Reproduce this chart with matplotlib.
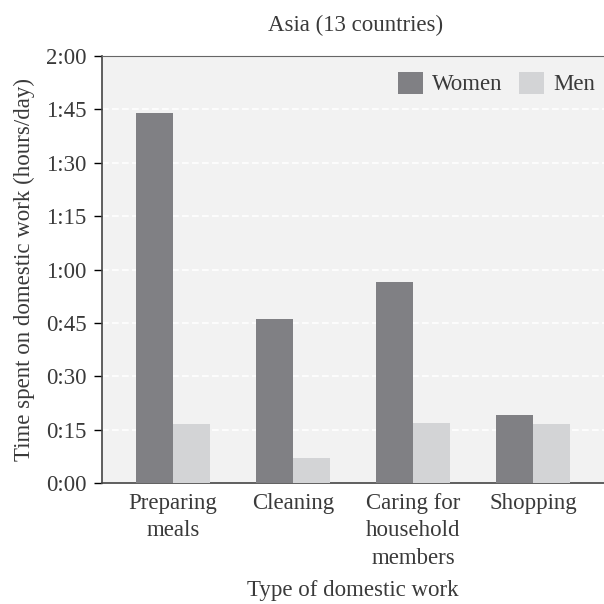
import matplotlib.pyplot as plt
import numpy as np

# data (minutes per day)
categories = ['Preparing\nmeals', 'Cleaning', 'Caring for\nhousehold\nmembers', 'Shopping']
women = [104, 46, 56.5, 19]
men = [16.5, 7, 17, 16.5]
tick_minutes = [0, 15, 30, 45, 60, 75, 90, 105, 120]
tick_labels = ['0:00', '0:15', '0:30', '0:45', '1:00', '1:15', '1:30', '1:45', '2:00']

plt.rcParams['font.family'] = ['Liberation Serif', 'DejaVu Serif']
text_col = '#3a3a3a'
fs = 16.5

fig = plt.figure(figsize=(6.04, 6.04), dpi=100)
ax = fig.add_axes([102 / 604, (604 - 483) / 604, (604 - 102) / 604, (483 - 56) / 604])
ax.set_facecolor('#f2f2f2')

x = np.arange(len(categories))
w = 0.31
ax.bar(x - w / 2, women, w, color='#808084', label='Women', zorder=3)
ax.bar(x + w / 2, men, w, color='#d3d4d6', label='Men', zorder=3)

ax.set_xlim(-0.59, 3.59)
ax.set_ylim(0, 120)
ax.set_yticks(tick_minutes)
ax.set_yticklabels(tick_labels)
ax.yaxis.grid(True, color='white', linestyle=(0, (4, 2)), linewidth=1.2, zorder=1)

ax.set_xticks(x)
ax.set_xticklabels(categories, linespacing=1.4)
ax.tick_params(axis='x', length=0, pad=7, labelsize=fs, labelcolor=text_col)
ax.tick_params(axis='y', length=6, width=1, pad=5, labelsize=fs, labelcolor=text_col)

ax.spines['right'].set_visible(False)
ax.spines['top'].set_color('#666666')
ax.spines['left'].set_color('#444444')
ax.spines['bottom'].set_color('#444444')
ax.spines['left'].set_linewidth(1.2)
ax.spines['bottom'].set_linewidth(1.2)

ax.set_xlabel('Type of domestic work', fontsize=fs, color=text_col, labelpad=8)
ax.set_ylabel('Time spent on domestic work (hours/day)', fontsize=fs, color=text_col, labelpad=8)
fig.text(356 / 604, 1 - 25 / 604, 'Asia (13 countries)', ha='center', va='center',
         fontsize=fs, color=text_col)

leg = ax.legend(loc='upper right', ncol=2, frameon=False, fontsize=fs,
                handlelength=1.1, handleheight=1.1, columnspacing=0.7,
                handletextpad=0.4, borderaxespad=0.0,
                bbox_to_anchor=(1.0, 0.985))
for t in leg.get_texts():
    t.set_color(text_col)

fig.savefig('out.png', dpi=100)
